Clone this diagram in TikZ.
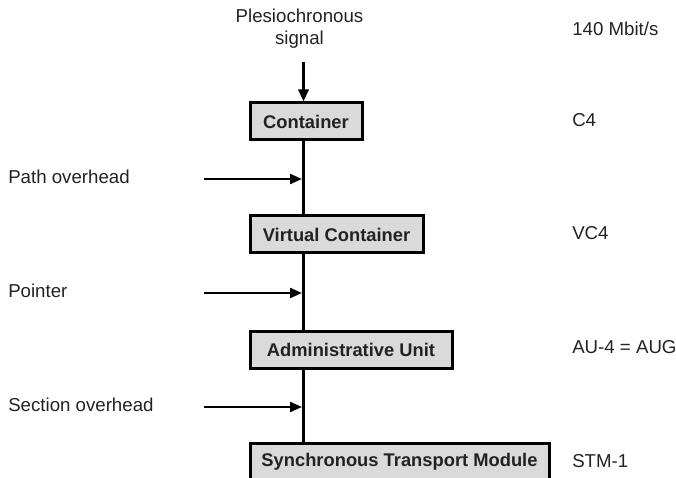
\documentclass[tikz,border=0pt]{standalone}
\usepackage{fontspec}
\setmainfont{Liberation Sans}
\usetikzlibrary{arrows.meta}
\definecolor{boxfill}{HTML}{DADADA}
\definecolor{ink}{HTML}{222222}
\begin{document}
\begin{tikzpicture}[x=0.75pt,y=-0.75pt,
  every node/.style={font=\fontsize{14}{16.5}\selectfont, text=ink},
  box/.style={draw=black, line width=2.25pt, fill=boxfill, anchor=north west,
    inner sep=0pt, minimum height=27.75pt, font=\fontsize{13.75}{16}\selectfont\bfseries},
  lbl/.style={anchor=west, inner sep=0pt},
  feed/.style={line width=1.6pt, -{Triangle[length=9pt,width=7.5pt]}},
  trunk/.style={line width=2.25pt}]
\useasboundingbox (0,0) rectangle (676,478);
\clip (0,0) rectangle (676,478);
\node[align=center, inner sep=0pt] (ps) at (299.5,29) {Plesiochronous\\signal};
\coordinate (psA) at (303.5,62);
\node[box, minimum width=84pt] (c4) at (248.5,101.5) {Container};
\node[box, minimum width=129.75pt] (vc) at (248.5,214.5) {Virtual Container};
\node[box, minimum width=151.5pt] (au) at (248.5,329.5) {Administrative Unit};
\node[box, minimum width=224.25pt] (stm) at (248.5,441.5) {Synchronous Transport Module};
\draw[trunk, -{Triangle[length=9pt,width=7.5pt]}] (psA) -- (psA |- c4.north);
\draw[trunk] (c4.south -| psA) -- (vc.north -| psA);
\draw[trunk] (vc.south -| psA) -- (au.north -| psA);
\draw[trunk] (au.south -| psA) -- (stm.north -| psA);
\node[lbl] (po) at (8,177) {Path overhead};
\node[lbl] (pt) at (8,291) {Pointer};
\node[lbl] (so) at (8,405) {Section overhead};
\coordinate (poS) at (204,179);
\coordinate (ptS) at (204,293);
\coordinate (soS) at (204,407);
\coordinate (poE) at (302,179);
\coordinate (ptE) at (302,293);
\coordinate (soE) at (302,407);
\draw[feed] (poS) -- (poE);
\draw[feed] (ptS) -- (ptE);
\draw[feed] (soS) -- (soE);
\node[lbl] (r0) at (572,29) {140 Mbit/s};
\node[lbl] (r1) at (572,120) {C4};
\node[lbl] (r2) at (572,233) {VC4};
\node[lbl] (r3) at (572,347) {AU-4 = AUG};
\node[lbl] (r4) at (572,461) {STM-1};
\end{tikzpicture}
\end{document}
